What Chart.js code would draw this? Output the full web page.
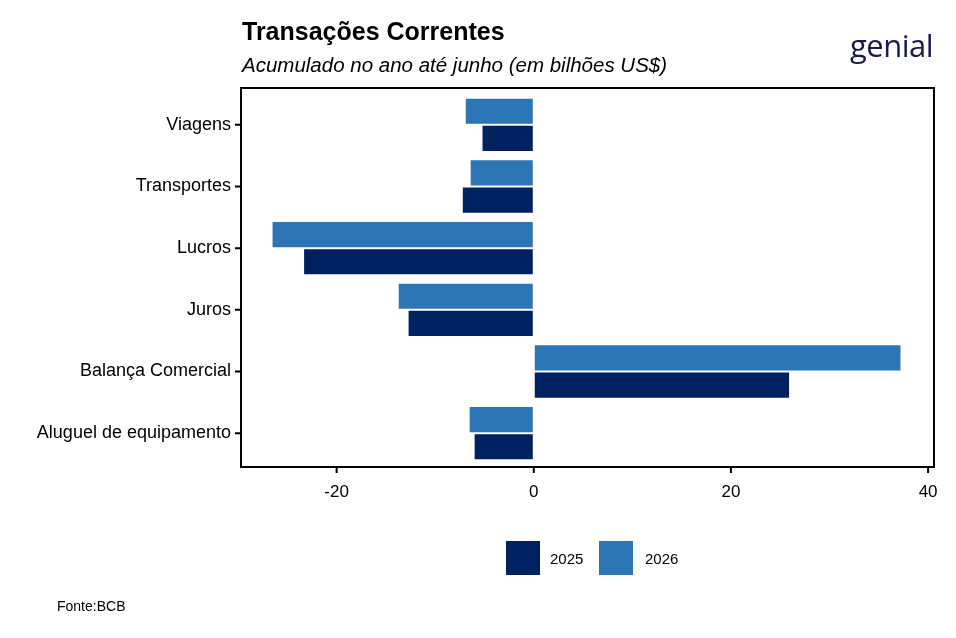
<!DOCTYPE html>
<html><head><meta charset="utf-8">
<script src="https://cdn.jsdelivr.net/npm/chart.js@4"></script>
<style>
body{margin:0;width:956px;height:638px;background:#fff;font-family:"Liberation Sans",Arial,sans-serif;position:relative;overflow:hidden}
#c{position:absolute;left:0;top:0}
.t{position:absolute;white-space:nowrap;color:#000}
</style></head><body>
<canvas id="c" width="956" height="638"></canvas>
<div class="t" style="left:242px;top:17px;font-size:25px;font-weight:bold">Transações Correntes</div>
<div class="t" style="left:242px;top:53px;font-size:20.5px;font-style:italic">Acumulado no ano até junho (em bilhões US$)</div>
<div class="t" style="left:850px;top:24px;font-size:31px;color:#1a1a4a;font-family:'Open Sans',sans-serif;letter-spacing:-0.5px">genial</div>
<div style="position:absolute;left:506px;top:541px;width:34px;height:34px;background:#00215F"></div>
<div class="t" style="left:550px;top:550px;font-size:15px">2025</div>
<div style="position:absolute;left:599px;top:541px;width:34px;height:34px;background:#2E75B6"></div>
<div class="t" style="left:645px;top:550px;font-size:15px">2026</div>
<div class="t" style="left:57px;top:598px;font-size:14px">Fonte:BCB</div>
<script>
const categories=["Viagens","Transportes","Lucros","Juros","Balança Comercial","Aluguel de equipamento"];
const v2025=[-5.3,-7.3,-23.4,-12.8,26.0,-6.1];
const v2026=[-7.0,-6.5,-26.6,-13.8,37.3,-6.6];
const xTicks=[-20,0,20,40];
const frame={id:'frame',afterDraw(ch){const c=ch.ctx,L=241,R=934,T=88,B=467;c.save();c.strokeStyle='#000';c.lineWidth=2;c.strokeRect(L,T,R-L,B-T);
const xs=ch.scales.x,ys=ch.scales.y;c.beginPath();
xTicks.forEach(v=>{const p=xs.getPixelForValue(v);c.moveTo(p,B);c.lineTo(p,B+6);});
categories.forEach((k,i)=>{const p=ys.getPixelForValue(i);c.moveTo(L,p);c.lineTo(L-6,p);});
c.stroke();c.restore();}};
new Chart(document.getElementById('c'),{type:'bar',
data:{labels:categories,datasets:[
{label:'2026',data:v2026,backgroundColor:'#2E75B6',borderColor:'#fff',borderWidth:1,borderSkipped:false},
{label:'2025',data:v2025,backgroundColor:'#00215F',borderColor:'#fff',borderWidth:1,borderSkipped:false}]},
options:{indexAxis:'y',responsive:false,animation:false,
layout:{padding:{left:0,top:94,right:22,bottom:124}},
plugins:{legend:{display:false},tooltip:{enabled:false}},
datasets:{bar:{categoryPercentage:0.88,barPercentage:1}},
scales:{
x:{min:-29.7,max:40.6,afterBuildTicks(s){s.ticks=xTicks.map(v=>({value:v}));},afterFit(s){s.height=50;},
grid:{display:false},border:{display:false},
ticks:{color:'#000',font:{size:17,family:'Liberation Sans'},padding:10}},
y:{afterFit(s){s.width=241;},grid:{display:false},border:{display:false},
ticks:{color:'#000',font:{size:18,family:'Liberation Sans'},padding:2}}}},
plugins:[frame]});
</script></body></html>
